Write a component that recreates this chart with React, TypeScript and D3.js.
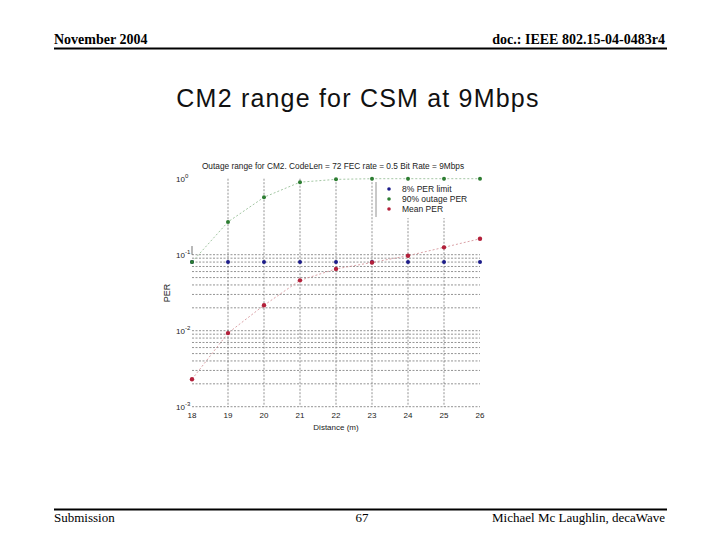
import React from "react";
import * as d3 from "d3";

const distances = [18, 19, 20, 21, 22, 23, 24, 25, 26];
const perLimit = [0.08, 0.08, 0.08, 0.08, 0.08, 0.08, 0.08, 0.08, 0.08];
const outage90 = [0.08, 0.27, 0.57, 0.9, 0.98, 1.0, 1.0, 1.0, 1.0];
const meanPer = [0.0023, 0.0093, 0.0216, 0.046, 0.065, 0.079, 0.097, 0.125, 0.162];
const yDecades = [1, 0.1, 0.01, 0.001];
const yExponents = ["0", "-1", "-2", "-3"];
const legendLabels = ["8% PER limit", "90% outage PER", "Mean  PER"];

const W = 720;
const H = 540;

export default function App() {
  const x = d3.scaleLinear().domain([18, 26]).range([192, 480]);
  const y = d3.scaleLog().domain([1e-3, 1]).range([406.7, 178.7]);

  const minor: number[] = [];
  [0.001, 0.01].forEach((d) => {
    for (let k = 1; k <= 9; k++) minor.push(d * k);
  });
  minor.push(0.1);

  const line = d3
    .line<number>()
    .x((_, i) => x(distances[i]))
    .y((v) => y(v));

  const colBlue = "#1c1c8a";
  const colGreen = "#2d7d32";
  const colRed = "#b3203a";
  const font = "Liberation Sans, Arial, sans-serif";
  const serif = "Liberation Serif, Times New Roman, serif";

  return (
    <svg
      width={W}
      height={H}
      style={{ position: "absolute", left: 0, top: 0, background: "#fff" }}
      fontFamily={font}
    >
      {/* header */}
      <text x={54} y={44} fontFamily={serif} fontWeight="bold" fontSize={14}>
        November 2004
      </text>
      <text x={665} y={44} textAnchor="end" fontFamily={serif} fontWeight="bold" fontSize={14}>
        doc.: IEEE 802.15-04-0483r4
      </text>
      <line x1={54} x2={667} y1={48.5} y2={48.5} stroke="#000" strokeWidth={2} />

      {/* main title */}
      <text x={358} y={107} textAnchor="middle" fontSize={25} letterSpacing={1.2} fill="#111">
        CM2 range for CSM at 9Mbps
      </text>

      {/* plot title */}
      <text x={333} y={169} textAnchor="middle" fontSize={8.3} fill="#222">
        Outage range for CM2. CodeLen = 72 FEC rate = 0.5 Bit Rate = 9Mbps
      </text>

      {/* horizontal grid */}
      {minor.map((v, i) => (
        <line
          key={"h" + i}
          x1={x(18)}
          x2={x(26)}
          y1={y(v)}
          y2={y(v)}
          stroke="#666"
          strokeWidth={0.7}
          strokeDasharray="2,1.5"
        />
      ))}
      {/* vertical grid */}
      {distances.slice(1, 8).map((d) => (
        <line
          key={"v" + d}
          x1={x(d)}
          x2={x(d)}
          y1={y(1)}
          y2={y(1e-3)}
          stroke="#666"
          strokeWidth={0.7}
          strokeDasharray="2,1.5"
        />
      ))}
      <line x1={x(18)} x2={x(18)} y1={y(0.13)} y2={y(0.1)} stroke="#333" strokeWidth={0.7} />

      {/* y tick labels */}
      {yDecades.map((v, i) => (
        <text key={"yt" + i} x={176} y={y(v) + 3} fontSize={8} fill="#222">
          10
          <tspan dy={-4} fontSize={6}>
            {yExponents[i]}
          </tspan>
        </text>
      ))}
      {/* x tick labels */}
      {distances.map((d) => (
        <text key={"xt" + d} x={x(d)} y={418} textAnchor="middle" fontSize={8} fill="#222">
          {d}
        </text>
      ))}
      <text x={336} y={430} textAnchor="middle" fontSize={8} fill="#222">
        Distance (m)
      </text>
      <text transform={`translate(170,293) rotate(-90)`} textAnchor="middle" fontSize={9} fill="#222">
        PER
      </text>

      {/* series lines */}
      <path d={line(outage90) || ""} fill="none" stroke="#8cb88c" strokeWidth={0.8} strokeDasharray="2,2" />
      <path d={line(meanPer) || ""} fill="none" stroke="#d08a90" strokeWidth={0.8} strokeDasharray="2,2" />

      {/* markers */}
      {perLimit.map((v, i) => (
        <circle key={"b" + i} cx={x(distances[i])} cy={y(v)} r={2} fill={colBlue} />
      ))}
      {outage90.map((v, i) => (
        <circle key={"g" + i} cx={x(distances[i])} cy={y(v)} r={2} fill={colGreen} />
      ))}
      {meanPer.map((v, i) => (
        <circle key={"r" + i} cx={x(distances[i])} cy={y(v)} r={2.2} fill={colRed} />
      ))}

      {/* legend */}
      <rect x={376} y={182} width={100} height={36} fill="#fff" />
      <line x1={376} x2={376} y1={182} y2={217} stroke="#777" strokeWidth={0.8} />
      {legendLabels.map((lab, i) => {
        const cy = 189 + i * 10;
        const c = [colBlue, colGreen, colRed][i];
        return (
          <g key={"lg" + i}>
            <circle cx={389} cy={cy} r={1.8} fill={c} />
            <text x={402} y={cy + 3} fontSize={8.5} fill="#222">
              {lab}
            </text>
          </g>
        );
      })}

      {/* footer */}
      <line x1={54} x2={667} y1={509.5} y2={509.5} stroke="#000" strokeWidth={2} />
      <text x={54} y={522} fontFamily={serif} fontSize={13}>
        Submission
      </text>
      <text x={362} y={522} textAnchor="middle" fontFamily={serif} fontSize={13}>
        67
      </text>
      <text x={665} y={522} textAnchor="end" fontFamily={serif} fontSize={13}>
        Michael Mc Laughlin, decaWave
      </text>
    </svg>
  );
}
